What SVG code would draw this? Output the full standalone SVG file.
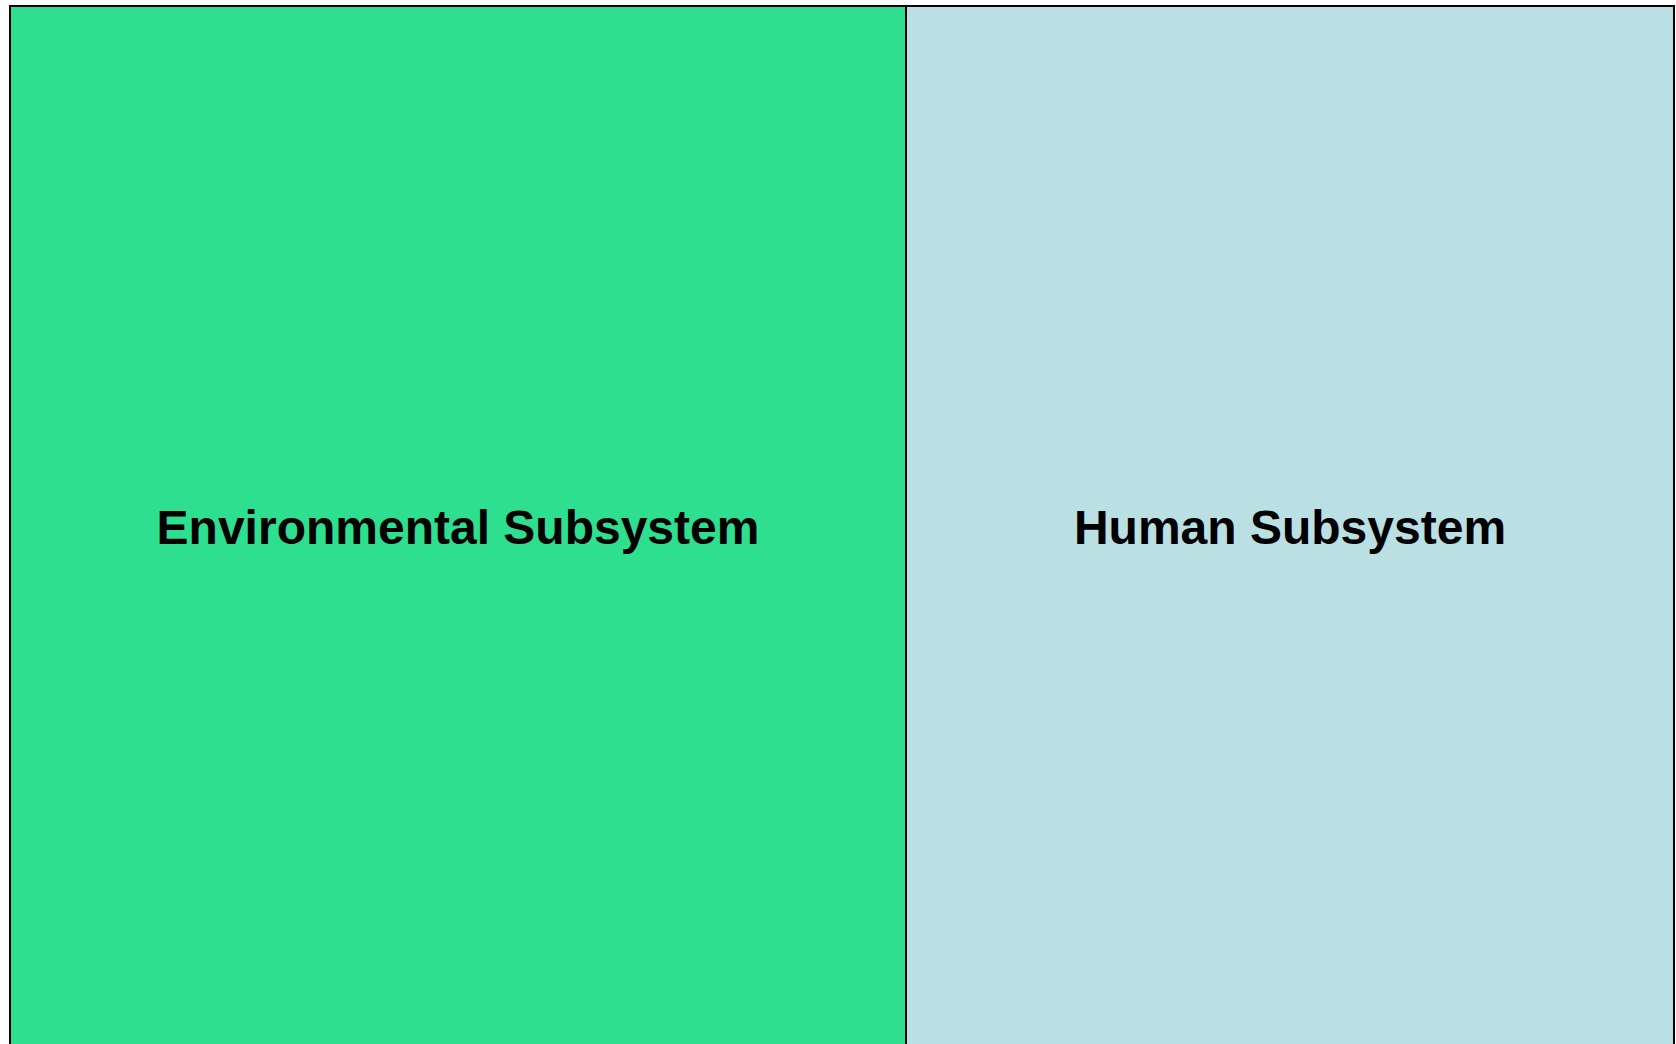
<svg xmlns="http://www.w3.org/2000/svg" width="1676" height="1044" viewBox="0 0 1676 1044">
<style>
.panel{stroke:#000;stroke-width:2}
.lbl{font-family:"Liberation Sans",Arial,sans-serif;font-weight:bold;font-size:48px;fill:#000;text-anchor:middle}
</style>
<rect width="1676" height="1044" fill="#fff"/>
<g id="environmental">
<rect class="panel" x="10" y="6" width="896" height="1060" fill="#2ddf8e"/>
<text class="lbl" x="458" y="544">Environmental Subsystem</text>
</g>
<g id="human">
<rect class="panel" x="906" y="6" width="768" height="1060" fill="#bbe0e3"/>
<text class="lbl" x="1290" y="544">Human Subsystem</text>
</g>
<g id="connectors"></g>
</svg>
